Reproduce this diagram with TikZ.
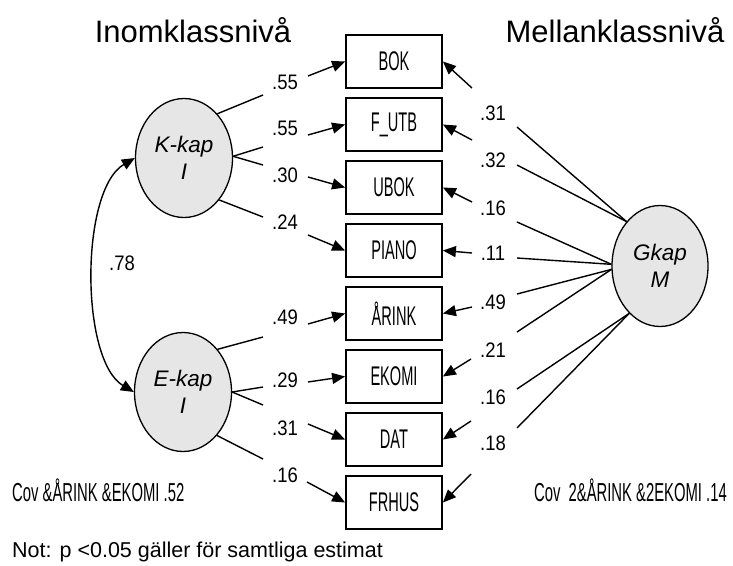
\documentclass[tikz,border=0pt]{standalone}
\usepackage{fontspec}
\setmainfont{Liberation Sans}
\newfontfamily\condfont[FakeStretch=0.54]{Liberation Sans}
\newfontfamily\notefont[FakeStretch=0.57]{Liberation Sans}
\newfontfamily\numfont[FakeStretch=0.88]{Liberation Sans}
\usetikzlibrary{shapes.geometric,arrows.meta}
\definecolor{latentfill}{RGB}{230,230,230}

\tikzset{
  latent/.style={ellipse, draw, line width=1.3pt, fill=latentfill,
    minimum width=97pt, minimum height=119pt, inner sep=0pt, align=center,
    font=\fontsize{22.5}{27}\selectfont\itshape},
  obs/.style={rectangle, draw, line width=1.8pt, minimum width=96pt,
    minimum height=53pt, inner sep=0pt, font=\condfont\fontsize{27}{32}\selectfont},
  coef/.style={font=\numfont\fontsize{21}{25}\selectfont, inner sep=0pt},
  heading/.style={font=\fontsize{31}{37}\selectfont, inner sep=0pt, anchor=base},
  note/.style={font=\notefont\fontsize{26}{31}\selectfont, inner sep=0pt},
  link/.style={line width=1.4pt},
  load/.style={line width=1.4pt, -{Triangle[length=13pt,width=11pt]}},
  corr/.style={line width=1.4pt, {Triangle[length=13pt,width=11pt]}-{Triangle[length=13pt,width=11pt]}},
}

\begin{document}
\begin{tikzpicture}[x=1pt, y=-1pt]
\useasboundingbox (0,0) rectangle (733,565);

% headings
\node[heading] (hin) at (193,42) {Inomklassnivå};
\node[heading] (hmel) at (615,42) {Mellanklassnivå};

% latent factors
\node[latent] (K) at (184,158) {K-kap\\I};
\node[latent] (E) at (183,392) {E-kap\\I};
\node[latent, minimum width=96pt, minimum height=121pt] (G) at (660,266) {Gkap\\M};

% observed indicators
\node[obs] (bok)   at (394,61.5)  {BOK};
\node[obs] (futb)  at (394,124.5) {F\_UTB};
\node[obs] (ubok)  at (394,187.5) {UBOK};
\node[obs] (piano) at (394,250.5) {PIANO};
\node[obs] (arink) at (394,313.5) {ÅRINK};
\node[obs] (ekomi) at (394,376.5) {EKOMI};
\node[obs] (dat)   at (394,439.5) {DAT};
\node[obs] (frhus) at (394,502.5) {FRHUS};

% within-level loadings
\node[coef] (l1) at (285,82)  {.55};
\node[coef] (l2) at (285,128) {.55};
\node[coef] (l3) at (285,175) {.30};
\node[coef] (l4) at (285,222) {.24};
\node[coef] (l5) at (285,317) {.49};
\node[coef] (l6) at (285,380) {.29};
\node[coef] (l7) at (285,428) {.31};
\node[coef] (l8) at (285,475) {.16};

\coordinate (a1) at (263,95);  \coordinate (b1) at (308,76);
\coordinate (a2) at (263,147); \coordinate (b2) at (308,135);
\coordinate (a3) at (263,165); \coordinate (b3) at (308,177);
\coordinate (a4) at (263,217); \coordinate (b4) at (308,235);
\coordinate (a5) at (263,337); \coordinate (b5) at (308,324);
\coordinate (a6) at (263,387); \coordinate (b6) at (308,382);
\coordinate (a7) at (263,405); \coordinate (b7) at (308,424);
\coordinate (a8) at (263,459); \coordinate (b8) at (307,482);

\draw[link] (K.53) -- (a1);  \draw[load] (b1) -- (bok.west);
\draw[link] (K.2)  -- (a2);  \draw[load] (b2) -- (futb.west);
\draw[link] (K.2)  -- (a3);  \draw[load] (b3) -- (ubok.west);
\draw[link] (K.-50) -- (a4); \draw[load] (b4) -- (piano.west);
\draw[link] (E.51) -- (a5);  \draw[load] (b5) -- (arink.west);
\draw[link] (E.0)  -- (a6);  \draw[load] (b6) -- (ekomi.west);
\draw[link] (E.0)  -- (a7);  \draw[load] (b7) -- (dat.west);
\draw[link] (E.-52) -- (a8); \draw[load] (b8) -- (frhus.west);

% between-level loadings
\node[coef] (r1) at (493,113) {.31};
\node[coef] (r2) at (493,160) {.32};
\node[coef] (r3) at (493,208) {.16};
\node[coef] (r4) at (493,253) {.11};
\node[coef] (r5) at (493,302) {.49};
\node[coef] (r6) at (493,350) {.21};
\node[coef] (r7) at (493,397) {.16};
\node[coef] (r8) at (493,443) {.18};

\coordinate (c1) at (517,127); \coordinate (d1) at (472,88);
\coordinate (c2) at (517,165); \coordinate (d2) at (472,140);
\coordinate (c3) at (517,222); \coordinate (d3) at (472,202);
\coordinate (c4) at (517,258); \coordinate (d4) at (472,253);
\coordinate (c5) at (517,294); \coordinate (d5) at (472,307);
\coordinate (c6) at (517,332); \coordinate (d6) at (471,359);
\coordinate (c7) at (517,389); \coordinate (d7) at (471,421);
\coordinate (c8) at (517,428); \coordinate (d8) at (471,474);

\draw[link] (G.127) -- (c1); \draw[load] (d1) -- (bok.east);
\draw[link] (G.127) -- (c2); \draw[load] (d2) -- (futb.east);
\draw[link] (G.178) -- (c3); \draw[load] (d3) -- (ubok.east);
\draw[link] (G.178) -- (c4); \draw[load] (d4) -- (piano.east);
\draw[link] (G.184) -- (c5); \draw[load] (d5) -- (arink.east);
\draw[link] (G.184) -- (c6); \draw[load] (d6) -- (ekomi.east);
\draw[link] (G.237) -- (c7); \draw[load] (d7) -- (dat.east);
\draw[link] (G.237) -- (c8); \draw[load] (d8) -- (frhus.east);

% factor covariance
\draw[corr] (K.west) .. controls (80,190) and (80,360) .. (E.west);
\node[coef] (r78) at (122,263) {.78};

% residual covariances and note
\node[note, anchor=west] (covw) at (12,490) {Cov \&ÅRINK \&EKOMI .52};
\node[note, anchor=east] (covb) at (727,490) {Cov\ \ 2\&ÅRINK \&2EKOMI .14};
\node[font=\fontsize{21.5}{26}\selectfont, inner sep=0pt, anchor=base west] (not) at (12,557)
  {Not: p <0.05 gäller för samtliga estimat};
\end{tikzpicture}
\end{document}
